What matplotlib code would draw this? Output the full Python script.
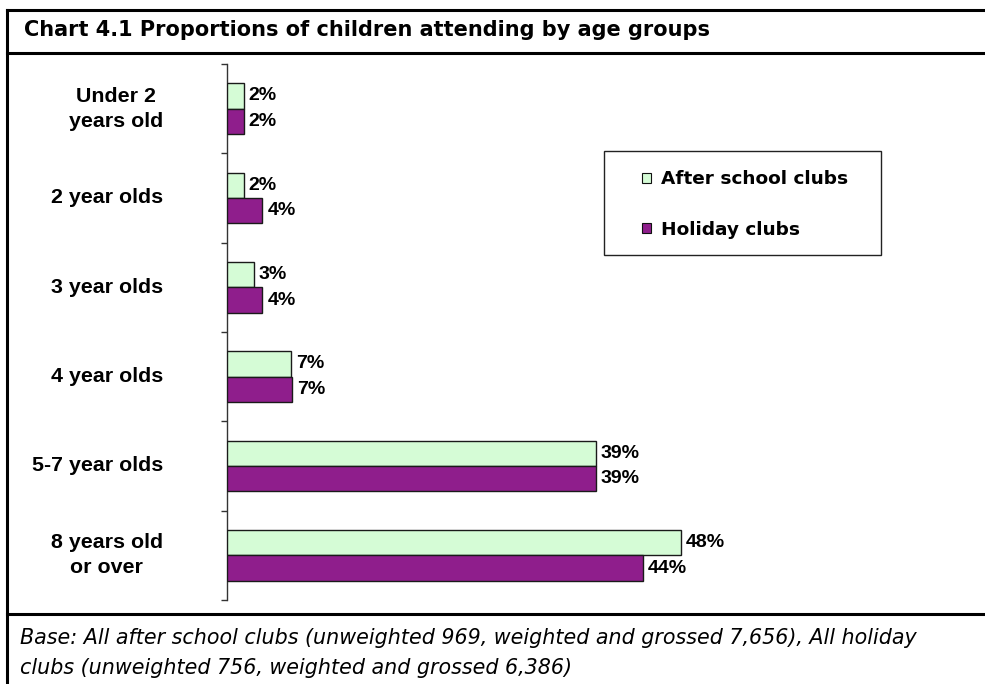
import matplotlib
matplotlib.use("Agg")
import matplotlib.pyplot as plt
from matplotlib.patches import Rectangle, Patch
from matplotlib.lines import Line2D
import numpy as np

# ---- data ----
categories = ["Under 2\nyears old", "2 year olds", "3 year olds", "4 year olds",
              "5-7 year olds", "8 years old\nor over"]
after_school = [1.8, 1.8, 2.9, 6.8, 39.0, 48.0]
holiday = [1.8, 3.8, 3.8, 6.9, 39.0, 44.0]
series_names = ["After school clubs", "Holiday clubs"]
title = "Chart 4.1 Proportions of children attending by age groups"
footnote = ("Base: All after school clubs (unweighted 969, weighted and grossed 7,656), All holiday\n"
            "clubs (unweighted 756, weighted and grossed 6,386)")

W, H = 985, 684
DPI = 100
fig = plt.figure(figsize=(W / DPI, H / DPI), dpi=DPI)
fig.patch.set_facecolor("white")

def fx(x):
    return x / W

def fy(y):
    return 1 - y / H

green = "#D5FCD6"
purple = "#8F1E8C"

# axes placement (pixels)
ax_left, ax_right, ax_top, ax_bottom = 226.5, 960, 64, 600
ax = fig.add_axes([fx(ax_left), fy(ax_bottom), fx(ax_right - ax_left), (ax_bottom - ax_top) / H])
ax.set_facecolor("none")

n = len(categories)
y = np.arange(n)
bh = 0.285
ax.barh(y - bh / 2, after_school, height=bh, color=green, edgecolor="#1a1a1a", linewidth=1.0, zorder=3)
ax.barh(y + bh / 2, holiday, height=bh, color=purple, edgecolor="#1a1a1a", linewidth=1.0, zorder=3)

ax.set_ylim(n - 0.5, -0.5)
ax.set_xlim(0, 77.5)

lab_font = dict(family="Liberation Sans", weight="bold", color="black")
for i in range(n):
    ax.annotate(f"{round(after_school[i]):d}%", xy=(after_school[i], y[i] - bh / 2),
                xytext=(3.5, 0), textcoords="offset points", va="center", ha="left",
                fontsize=14, **lab_font)
    ax.annotate(f"{round(holiday[i]):d}%", xy=(holiday[i], y[i] + bh / 2),
                xytext=(3.5, 0), textcoords="offset points", va="center", ha="left",
                fontsize=14, **lab_font)

# axis styling
for s in ["top", "right", "bottom"]:
    ax.spines[s].set_visible(False)
ax.spines["left"].set_color("#333333")
ax.spines["left"].set_linewidth(1.0)
ax.xaxis.set_visible(False)
ax.set_yticks(np.arange(-0.5, n, 1.0))
ax.set_yticklabels([])
ax.tick_params(axis="y", direction="out", length=4.5, width=1.0, color="#333333")

# category labels (right-aligned block, centred lines)
trans = ax.get_yaxis_transform()
for i, c in enumerate(categories):
    ax.text(-(ax_left - 163) / (ax_right - ax_left), y[i], c, transform=trans,
            ha="right", va="center", multialignment="center", fontsize=15.4,
            linespacing=1.42, **lab_font)

# legend
handles = [Patch(facecolor=green, edgecolor="#111111", linewidth=0.8),
           Patch(facecolor=purple, edgecolor="#111111", linewidth=0.8)]
leg = fig.legend(handles, series_names, loc="center",
                 bbox_to_anchor=(fx(745), fy(204.5)), bbox_transform=fig.transFigure,
                 frameon=False, prop=dict(family="DejaVu Sans", weight="bold", size=13.3),
                 handlelength=0.5, handleheight=0.5, handletextpad=0.5, labelspacing=1.75)
fig.patches.append(Rectangle((fx(604), fy(255)), fx(881 - 604), (255 - 151) / H,
                             transform=fig.transFigure, fill=False, edgecolor="#222222",
                             linewidth=1.0))

# borders
lw = 2.2
fig.add_artist(Line2D([fx(7), fx(7)], [fy(10), 0], transform=fig.transFigure, color="black", lw=lw))
for yy in [10, 53, 614]:
    fig.add_artist(Line2D([fx(7), 1], [fy(yy), fy(yy)], transform=fig.transFigure, color="black", lw=lw))

# title
fig.text(fx(24), fy(36), title, ha="left", va="baseline", fontsize=15.0,
         family="DejaVu Sans", weight="bold", color="black")

# footnote
fig.text(fx(20), fy(653), footnote, ha="left", va="center", fontsize=14.9,
         family="DejaVu Sans", style="italic", color="black", linespacing=1.63)

fig.savefig("out.png", dpi=DPI)
